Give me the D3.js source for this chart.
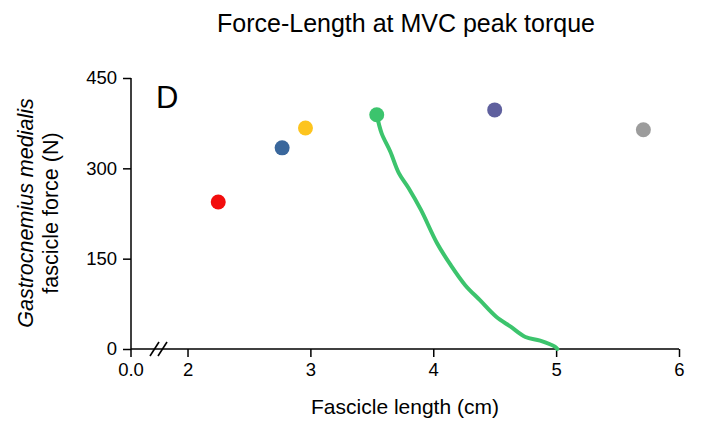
<!DOCTYPE html>
<html>
  <head>
    <meta charset="UTF-8">
    <title>Force-Length at MVC peak torque</title>
    <script src="https://d3js.org/d3.v7.min.js"></script>
    <style>
      body { margin: 0; background: #fff; }
      text { font-family: "Liberation Sans", Arial, sans-serif; fill: #000; }
    </style>
  </head>
  <body>
    <svg width="703" height="433"></svg>

    <script>

// peak points, one per condition
const pointX = [2.25, 2.77, 2.96, 3.54, 4.50, 5.71];
const pointY = [244, 334, 367, 389, 397, 364];
const pointColors = ["#f20d0d", "#3a679c", "#fdc41e", "#3cc46d", "#5f609e", "#9c9c9c"];

// green descending limb
const curveX = [3.54, 3.58, 3.65, 3.72, 3.80, 3.90, 4.03, 4.14, 4.26, 4.38, 4.51, 4.63, 4.75, 4.87, 4.99, 5.01];
const curveY = [389, 358, 328, 292, 267, 231, 176, 140, 106, 81, 54, 37, 20, 14, 4, 0];

const xTicks = [2, 3, 4, 5, 6];
const yTicks = [0, 150, 300, 450];

const svg = d3.select("svg");

const x = d3.scaleLinear().domain([1.54, 6]).range([131, 679]);
const y = d3.scaleLinear().domain([0, 450]).range([349, 78]);

// x axis
const xAxis = svg.append("g")
  .attr("transform", `translate(0,${y(0)})`)
  .call(d3.axisBottom(x).tickValues(xTicks).tickSize(8).tickPadding(6).tickFormat(d3.format("d")));
xAxis.select(".domain").attr("d", `M${x.range()[0]},0H${x.range()[1]}`);

// label at the origin (before the break)
xAxis.append("g")
  .attr("transform", `translate(${x.range()[0]},0)`)
  .call(g => g.append("line").attr("y2", 8).attr("stroke", "#000").attr("stroke-width", 1.5))
  .call(g => g.append("text").attr("y", 14).attr("dy", "0.71em")
    .attr("text-anchor", "middle").text("0.0"));

// y axis
const yAxis = svg.append("g")
  .attr("transform", `translate(${x.range()[0]},0)`)
  .call(d3.axisLeft(y).tickValues(yTicks).tickSize(8).tickPadding(6));
yAxis.select(".domain").attr("d", `M0,${y(450)}V${y(0)}`);

svg.selectAll("g text")
  .attr("font-size", null)
  .style("font-size", "18.5px")
  .style("fill", "#000");
svg.selectAll(".tick line, .domain").attr("stroke", "#000").attr("stroke-width", 1.5);

// axis break marks
const brk = svg.append("g").attr("stroke", "#000").attr("stroke-width", 1.6);
[0, 8].forEach(off => {
  brk.append("line")
    .attr("x1", 150 + off).attr("y1", y(0) + 7)
    .attr("x2", 159 + off).attr("y2", y(0) - 7);
});

// green curve
svg.append("path")
  .datum(d3.zip(curveX, curveY))
  .attr("fill", "none")
  .attr("stroke", "#3cc46d")
  .attr("stroke-width", 4)
  .attr("stroke-linecap", "round")
  .attr("d", d3.line().x(d => x(d[0])).y(d => y(d[1])).curve(d3.curveCatmullRom));

// points
svg.append("g")
  .selectAll("circle")
  .data(pointX.map((v, i) => ({ x: v, y: pointY[i], c: pointColors[i] })))
  .join("circle")
  .attr("cx", d => x(d.x))
  .attr("cy", d => y(d.y))
  .attr("r", 7.5)
  .attr("fill", d => d.c);

// titles
svg.append("text")
  .attr("x", 406).attr("y", 32)
  .attr("text-anchor", "middle")
  .style("font-size", "25px")
  .text("Force-Length at MVC peak torque");

svg.append("text")
  .attr("x", 405).attr("y", 414)
  .attr("text-anchor", "middle")
  .style("font-size", "21px")
  .text("Fascicle length (cm)");

svg.append("text")
  .attr("x", 156).attr("y", 108)
  .style("font-size", "31px")
  .text("D");

const yLab = svg.append("text")
  .attr("transform", "translate(0,213) rotate(-90)")
  .attr("text-anchor", "middle")
  .style("font-size", "21.5px");
yLab.append("tspan").attr("x", 0).attr("y", 33)
  .style("font-style", "italic").text("Gastrocnemius medialis");
yLab.append("tspan").attr("x", 0).attr("y", 58)
  .text("fascicle force (N)");

    </script>
  </body>
</html>
